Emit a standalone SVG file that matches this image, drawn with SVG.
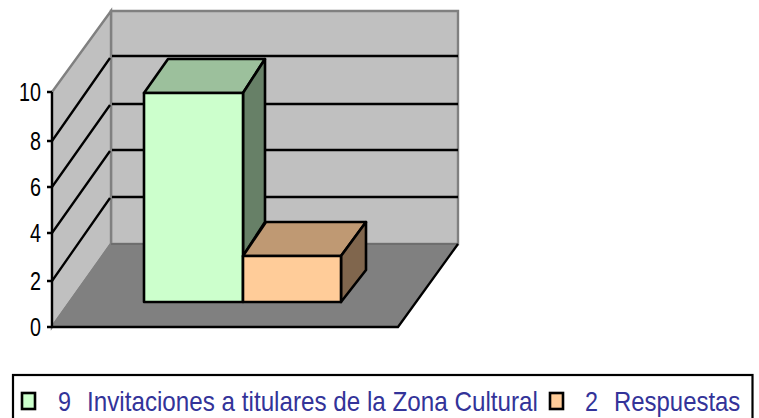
<svg xmlns="http://www.w3.org/2000/svg" width="759" height="418" viewBox="0 0 759 418">
<style>
.wall{fill:#c0c0c0;stroke:#808080;stroke-width:2.4}
.grid{fill:none;stroke:#000;stroke-width:2.3}
.bar{stroke:#000;stroke-width:2.6;stroke-linejoin:round}
.ax{font-family:"Liberation Sans",Arial,sans-serif;font-size:25px;fill:#000}
.leg{font-family:"Liberation Sans",Arial,sans-serif;font-size:28.5px;fill:#333399}
</style>
<g id="chart-walls">
<polygon class="wall" points="111,11 458,11 458,244 111,244"/>
<polygon class="wall" points="52,92 111,11 111,244 52,327"/>
<polygon points="52,327 111,244 458,244 398,327" fill="#808080"/>
<path d="M52,327 L111,244" fill="none" stroke="#808080" stroke-width="2.4"/>
<path d="M111,244 H458" fill="none" stroke="#6e6e6e" stroke-width="1.8"/>
</g>
<g id="connectors">
<path class="grid" d="M52,141 L110,58 M52,187 L110,105 M52,233 L110,151 M52,281 L110,198"/>
<path class="grid" d="M112,56 H458 M112,104 H458 M112,150 H458 M112,197 H458"/>
<path class="grid" d="M52,92 V327 M47,92 H52 M47,141 H52 M47,187 H52 M47,233 H52 M47,281 H52 M47,327 H52"/>
<path class="grid" d="M52,327 H398 L458,244"/>
</g>
<g id="bar-invitaciones">
<polygon class="bar" points="144,93 168,59 265,59 243,93" fill="#9cc09c"/>
<polygon class="bar" points="243,93 265,59 265,222 243,256" fill="#678067"/>
<rect class="bar" x="144" y="93" width="99" height="209" fill="#ccffcc"/>
</g>
<g id="bar-respuestas">
<polygon class="bar" points="243,256 266,222 366,222 341,256" fill="#bf9973"/>
<polygon class="bar" points="341,256 366,222 366,270 341,302" fill="#80664d"/>
<rect class="bar" x="243" y="256" width="98" height="46" fill="#ffcc99"/>
</g>
<g id="axis-labels">
<text class="ax" transform="translate(19 100.5) scale(.79 1)">10</text>
<text class="ax" transform="translate(30 149.5) scale(.79 1)">8</text>
<text class="ax" transform="translate(30 195.5) scale(.79 1)">6</text>
<text class="ax" transform="translate(30 241.5) scale(.79 1)">4</text>
<text class="ax" transform="translate(30 290) scale(.79 1)">2</text>
<text class="ax" transform="translate(30 336) scale(.79 1)">0</text>
</g>
<g id="legend">
<rect x="13" y="375" width="739.5" height="50" fill="#fff" stroke="#000" stroke-width="2.2"/>
<rect x="22" y="393" width="13" height="16" fill="#ccffcc" stroke="#000" stroke-width="2.6"/>
<text class="leg" transform="translate(58 410.5) scale(.82 1)">9</text>
<text class="leg" transform="translate(87 410.5) scale(.85 1)">Invitaciones a titulares de la Zona Cultural</text>
<rect x="550" y="393" width="13" height="16" fill="#ffcc99" stroke="#000" stroke-width="2.6"/>
<text class="leg" transform="translate(585 410.5) scale(.82 1)">2</text>
<text class="leg" transform="translate(614 410.5) scale(.84 1)">Respuestas</text>
</g>
</svg>
